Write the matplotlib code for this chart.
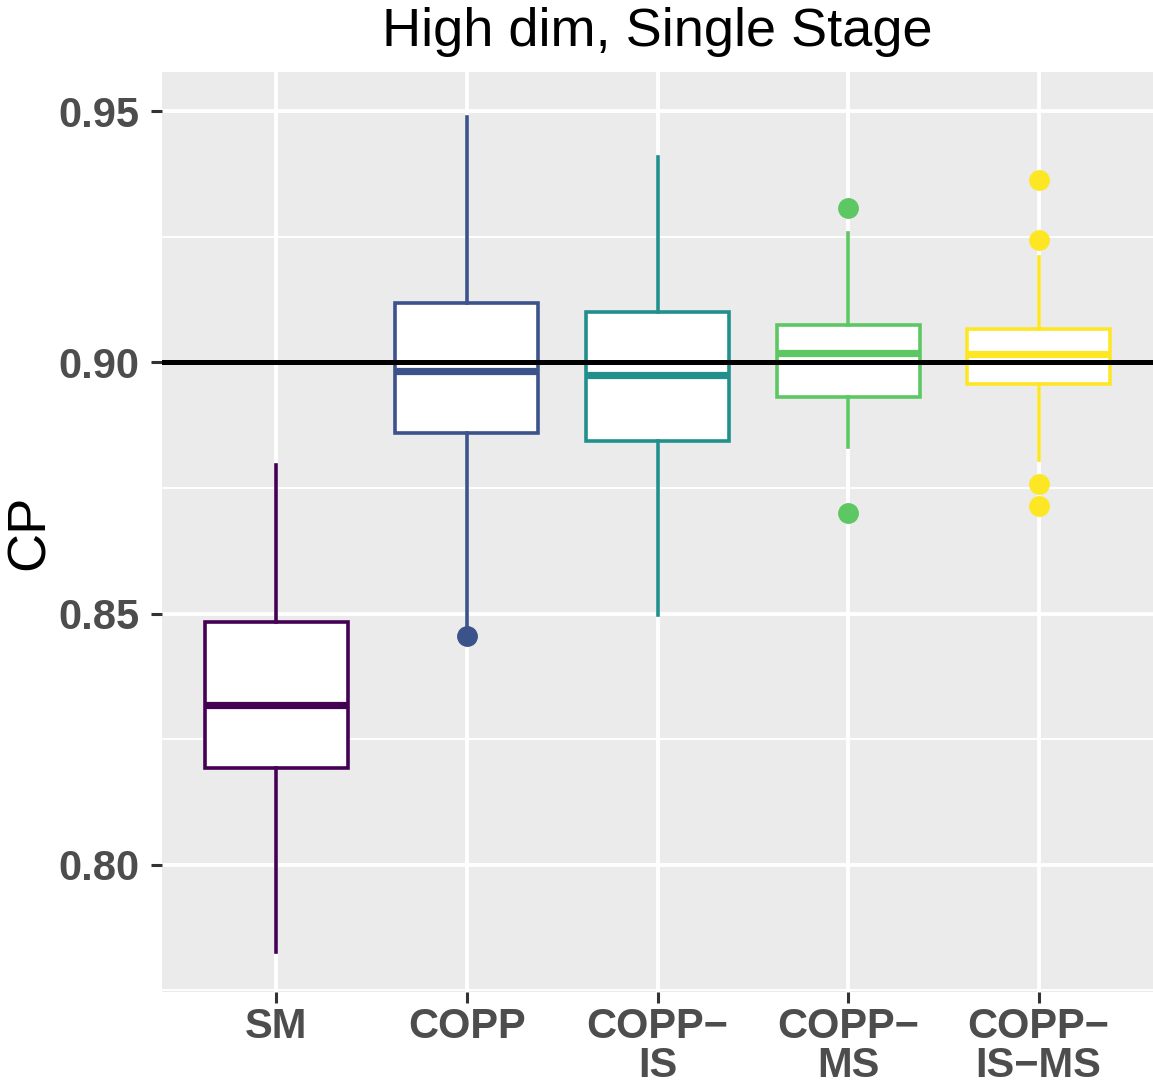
import matplotlib
matplotlib.use("Agg")
import matplotlib.pyplot as plt
from matplotlib.ticker import MultipleLocator

plt.rcParams['font.family'] = ['Liberation Sans', 'DejaVu Sans']

# data
methods = ["SM", "COPP", "COPP\u2212\nIS", "COPP\u2212\nMS", "COPP\u2212\nIS\u2212MS"]
colors = ["#440154", "#3B528B", "#21908C", "#5DC863", "#FDE725"]
whislo = [0.7827, 0.8470, 0.8497, 0.8831, 0.8805]
q1 = [0.8193, 0.8859, 0.8843, 0.8932, 0.8958]
med = [0.8318, 0.8982, 0.8974, 0.9018, 0.9016]
q3 = [0.8483, 0.9119, 0.9101, 0.9074, 0.9066]
whishi = [0.8795, 0.9489, 0.9408, 0.9258, 0.9209]
fliers = [[], [0.8455], [], [0.9308, 0.8700], [0.9364, 0.9243, 0.8759, 0.8714]]
target = 0.90

fig = plt.figure(figsize=(11.53, 10.91), dpi=100)
ax = fig.add_axes([162 / 1153, 1 - 992 / 1091, 991 / 1153, 920 / 1091])
ax.set_facecolor("#EBEBEB")
for s in ax.spines.values():
    s.set_visible(False)

ax.set_xlim(0.4, 5.6)
ax.set_ylim(0.7747, 0.9578)
ax.yaxis.set_major_locator(MultipleLocator(0.05))
ax.yaxis.set_minor_locator(MultipleLocator(0.025))
ax.grid(which="major", color="white", lw=2.8)
ax.grid(which="minor", axis="y", color="white", lw=1.4)
ax.set_axisbelow(True)

for i in range(5):
    st = [dict(whislo=whislo[i], q1=q1[i], med=med[i], q3=q3[i],
               whishi=whishi[i], fliers=fliers[i])]
    c = colors[i]
    ax.bxp(st, positions=[i + 1], widths=0.75, showcaps=False, patch_artist=True,
           boxprops=dict(facecolor="white", edgecolor=c, lw=2.6),
           whiskerprops=dict(color=c, lw=2.6),
           medianprops=dict(color=c, lw=5.2, solid_capstyle="butt"),
           flierprops=dict(marker="o", markerfacecolor=c, markeredgecolor=c,
                           markersize=14))

ax.axhline(target, color="black", lw=3.6, zorder=5)

ax.set_xticks(range(1, 6))
ax.set_xticklabels(methods, fontsize=30, fontweight="bold", color="#4D4D4D",
                   linespacing=0.95)
ax.set_yticks([0.80, 0.85, 0.90, 0.95])
ax.set_yticklabels(["0.80", "0.85", "0.90", "0.95"], fontsize=30,
                   fontweight="bold", color="#4D4D4D")
ax.tick_params(which="major", length=8, width=2.2, color="#333333")
ax.tick_params(axis="y", pad=8)
ax.tick_params(axis="x", pad=3)
ax.tick_params(which="minor", length=0)
ax.set_ylabel("CP", fontsize=39, labelpad=3)
ax.set_title("High dim, Single Stage", fontsize=39, pad=19)

fig.savefig("out.png", dpi=100)
